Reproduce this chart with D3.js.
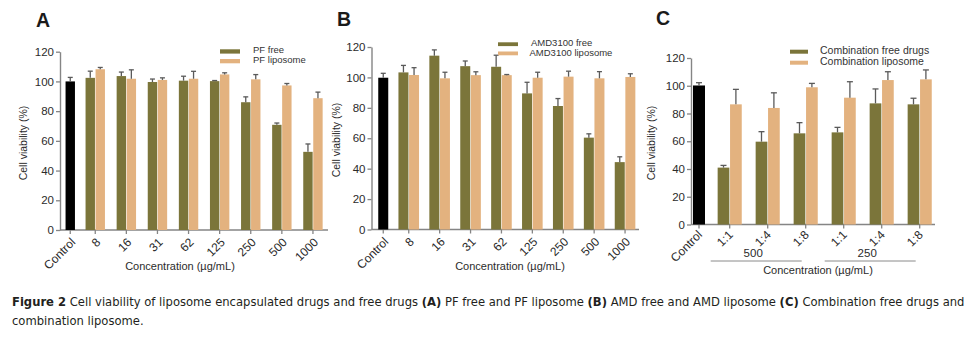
<!DOCTYPE html>
<html>
<head>
<meta charset="utf-8">
<script src="https://cdn.jsdelivr.net/npm/d3@7"></script>
<style>
  html, body { margin: 0; padding: 0; background: #fff; }
  svg { display: block; }
  text { font-family: Arial, "Liberation Sans", sans-serif; fill: #2b2b2b; }
</style>
</head>
<body>
<svg id="chart" width="979" height="340"></svg>
<script>
// ---------------- DATA ----------------
const yTicks = [0, 20, 40, 60, 80, 100, 120];

// Panel A: PF
const concA = ["8", "16", "31", "62", "125", "250", "500", "1000"];
const controlA = 100, controlErrA = 2.7;
const pfFree = [102.4, 103.6, 99.6, 100.5, 100.2, 86.0, 70.8, 52.6];
const pfFreeErr = [4.5, 2.7, 2.0, 3.0, 0.4, 3.6, 1.2, 5.3];
const pfLipo = [108.2, 101.8, 101.0, 101.8, 104.7, 101.4, 97.3, 88.7];
const pfLipoErr = [1.2, 6.0, 1.4, 5.0, 1.1, 3.2, 1.3, 4.1];
const legendA = ["PF free", "PF liposome"];

// Panel B: AMD3100
const concB = ["8", "16", "31", "62", "125", "250", "500", "1000"];
const controlB = 99.8, controlErrB = 2.9;
const amdFree = [103.3, 114.3, 107.4, 107.0, 89.5, 81.2, 60.4, 44.3];
const amdFreeErr = [4.6, 3.8, 3.4, 7.6, 7.3, 4.9, 2.5, 3.5];
const amdLipo = [101.6, 99.4, 101.5, 101.5, 99.8, 100.5, 99.4, 100.3];
const amdLipoErr = [4.8, 4.0, 2.2, 0.4, 3.6, 3.6, 4.4, 2.1];
const legendB = ["AMD3100 free", "AMD3100 liposome"];

// Panel C: combination
const ratioC = ["1:1", "1:4", "1:8", "1:1", "1:4", "1:8"];
const doseGroupsC = ["500", "250"];
const controlC = 100.2, controlErrC = 2.0;
const combFree = [41.0, 59.7, 65.7, 66.4, 87.3, 86.6];
const combFreeErr = [1.6, 7.2, 7.7, 3.6, 10.4, 4.4];
const combLipo = [86.6, 84.0, 98.9, 91.4, 104.1, 104.6];
const combLipoErr = [10.8, 10.9, 2.8, 11.5, 6.0, 6.8];
const legendC = ["Combination free drugs", "Combination liposome"];

const controlLabel = "Control";
const xTitle = "Concentration (\u00b5g/mL)";
const yTitle = "Cell viability (%)";

// ---------------- STYLE ----------------
const OLIVE = "#7b753a";
const TAN = "#e3b27f";
const AXIS = "#858585";
const ERR = "#5a5a5a";

const svg = d3.select("#chart");

function panel(cfg) {
  const g = svg.append("g");
  const y = d3.scaleLinear().domain([0, 120]).range(cfg.yRange);
  const x = d3.scaleBand().domain(d3.range(cfg.free.length)).range(cfg.groupRange).padding(0);
  const cx = i => x(i) + x.bandwidth() / 2;
  const ctrlX = cx(0) - cfg.controlGap;
  const y0 = y(0);

  // letter
  g.append("text").attr("x", cfg.letterPos[0]).attr("y", cfg.letterPos[1])
    .style("font-size", "19.5px").style("font-weight", "bold").style("fill", "#1a1a1a")
    .text(cfg.letter);

  // y axis
  const ya = g.append("g").attr("transform", `translate(${cfg.yAxisX},0)`)
    .call(d3.axisLeft(y).tickValues(yTicks).tickSize(4).tickPadding(2).tickSizeOuter(0));
  ya.select(".domain").attr("stroke", AXIS).attr("stroke-width", 1.4);
  ya.selectAll(".tick line").attr("stroke", AXIS).attr("stroke-width", 1.3);
  ya.selectAll(".tick text").style("font-size", "11.5px").style("font-family", "Arial, 'Liberation Sans', sans-serif").attr("fill", "#2b2b2b");

  // x axis line
  g.append("line").attr("x1", cfg.yAxisX).attr("x2", cfg.xEnd).attr("y1", y0).attr("y2", y0)
    .attr("stroke", AXIS).attr("stroke-width", 1.4);
  const tickPos = [ctrlX].concat(d3.range(cfg.free.length).map(cx));
  g.selectAll(".xt").data(tickPos).join("line")
    .attr("x1", d => d).attr("x2", d => d).attr("y1", y0).attr("y2", y0 + 4)
    .attr("stroke", AXIS).attr("stroke-width", 1.3);
  const labels = [controlLabel].concat(cfg.tickLabels);
  g.selectAll(".xl").data(labels).join("text")
    .attr("transform", (d, i) => `translate(${tickPos[i] + cfg.labelDx},${y0 + cfg.labelDy}) rotate(-45)`)
    .attr("text-anchor", "end").attr("dy", "0.35em")
    .style("font-size", "12px").text(d => d);

  // bars
  const bw = cfg.barW, gap = cfg.gap;
  const bars = [];
  bars.push({ x: ctrlX - cfg.controlW / 2, w: cfg.controlW, v: cfg.control, e: cfg.controlErr, c: "#000" });
  cfg.free.forEach((v, i) => bars.push({ x: cx(i) - gap / 2 - bw, w: bw, v, e: cfg.freeErr[i], c: OLIVE }));
  cfg.lipo.forEach((v, i) => bars.push({ x: cx(i) + gap / 2, w: bw, v, e: cfg.lipoErr[i], c: TAN }));

  g.selectAll(".bar").data(bars).join("rect")
    .attr("x", d => d.x).attr("width", d => d.w)
    .attr("y", d => y(d.v)).attr("height", d => y0 - y(d.v))
    .attr("fill", d => d.c);
  // error bars (upper only)
  g.selectAll(".ev").data(bars).join("line")
    .attr("x1", d => d.x + d.w / 2).attr("x2", d => d.x + d.w / 2)
    .attr("y1", d => y(d.v)).attr("y2", d => y(d.v + d.e))
    .attr("stroke", ERR).attr("stroke-width", 1.3);
  g.selectAll(".ec").data(bars).join("line")
    .attr("x1", d => d.x + d.w / 2 - cfg.capW / 2).attr("x2", d => d.x + d.w / 2 + cfg.capW / 2)
    .attr("y1", d => y(d.v + d.e)).attr("y2", d => y(d.v + d.e))
    .attr("stroke", ERR).attr("stroke-width", 1.3);

  // legend
  const L = cfg.legend;
  [OLIVE, TAN].forEach((c, i) => {
    g.append("rect").attr("x", L.x).attr("y", L.rows[i] - L.swOff).attr("width", L.swW).attr("height", L.swH).attr("fill", c);
    g.append("text").attr("x", L.tx + (L.txOff ? L.txOff[i] : 0)).attr("y", L.rows[i])
      .style("font-size", L.fs + "px").style("fill", "#333").text(cfg.legendNames[i]);
  });

  // axis titles
  g.append("text").attr("transform", `translate(${cfg.yTitle[0]},${cfg.yTitle[1]}) rotate(-90)`)
    .attr("text-anchor", "middle").style("font-size", "10.5px").text(yTitle);
  g.append("text").attr("x", cfg.xTitle[0]).attr("y", cfg.xTitle[1])
    .attr("text-anchor", "middle").style("font-size", "11px").text(xTitle);

  return { g, x, cx, y };
}

panel({
  letter: "A", letterPos: [36, 27],
  yAxisX: 60, yRange: [230, 51.7], xEnd: 328,
  groupRange: [79.7, 328.5], controlGap: 25, barW: 9.4, gap: 0.6, controlW: 9.4, capW: 5,
  control: controlA, controlErr: controlErrA,
  free: pfFree, freeErr: pfFreeErr, lipo: pfLipo, lipoErr: pfLipoErr,
  tickLabels: concA, labelDx: 3, labelDy: 10,
  legendNames: legendA,
  legend: { x: 220, rows: [53, 62.7], swOff: 3.7, swW: 20, swH: 4.3, tx: 253, fs: 9.5 },
  yTitle: [27, 143], xTitle: [180, 270]
});

panel({
  letter: "B", letterPos: [337, 26],
  yAxisX: 371.5, yRange: [229.5, 47], xEnd: 639,
  groupRange: [393.3, 640.5], controlGap: 25.5, barW: 10, gap: 0.6, controlW: 10, capW: 5,
  control: controlB, controlErr: controlErrB,
  free: amdFree, freeErr: amdFreeErr, lipo: amdLipo, lipoErr: amdLipoErr,
  tickLabels: concB, labelDx: 3, labelDy: 10,
  legendNames: legendB,
  legend: { x: 498, rows: [46.3, 55.5], swOff: 4, swW: 20, swH: 3.8, tx: 531, fs: 9.5, txOff: [0, -1.5] },
  yTitle: [340, 140], xTitle: [510, 270]
});

const pc = panel({
  letter: "C", letterPos: [656, 25],
  yAxisX: 691, yRange: [224.5, 58], xEnd: 935,
  groupRange: [710.7, 938.7], controlGap: 30.7, barW: 11.7, gap: 0.7, controlW: 12, capW: 6,
  control: controlC, controlErr: controlErrC,
  free: combFree, freeErr: combFreeErr, lipo: combLipo, lipoErr: combLipoErr,
  tickLabels: ratioC, labelDx: 1, labelDy: 8,
  legendNames: legendC,
  legend: { x: 790, rows: [53.5, 64.5], swOff: 3.8, swW: 18, swH: 4, tx: 820, fs: 10.5 },
  yTitle: [655, 143], xTitle: [818, 274]
});

// dose group brackets for panel C
doseGroupsC.forEach((lab, k) => {
  const a = pc.cx(k * 3) - 19, b = pc.cx(k * 3 + 2) - 4;
  pc.g.append("line").attr("x1", a).attr("x2", b).attr("y1", 261).attr("y2", 261)
    .attr("stroke", "#8a8a8a").attr("stroke-width", 1);
  pc.g.append("text").attr("x", (a + b) / 2 - 3).attr("y", 257).attr("text-anchor", "middle")
    .style("font-size", "11.5px").text(lab);
});

// ---------------- CAPTION ----------------
const capFont = "'Liberation Sans Narrow', 'DejaVu Sans Condensed', 'Open Sans', sans-serif";
const line1 = [
  ["Figure 2", true], [" Cell viability of liposome encapsulated drugs and free drugs ", false],
  ["(A)", true], [" PF free and PF liposome ", false], ["(B)", true],
  [" AMD free and AMD liposome ", false], ["(C)", true], [" Combination free drugs and", false]
];
const line2 = [["combination liposome.", false]];
function capLine(parts) {
  const t = svg.append("text").attr("x", 0).attr("y", 0)
    .style("font-family", capFont).style("font-size", "12px").style("fill", "#231f20");
  parts.forEach(([s, b]) => t.append("tspan").style("font-weight", b ? "bold" : "normal").text(s));
  return t;
}
const c1 = capLine(line1), c2 = capLine(line2);
const w1 = c1.node().getComputedTextLength();
const sx = (965 - 12) / w1;
c1.attr("transform", `translate(12,306) scale(${sx},1)`);
c2.attr("transform", `translate(12,325) scale(${sx},1)`);
</script>
</body>
</html>
